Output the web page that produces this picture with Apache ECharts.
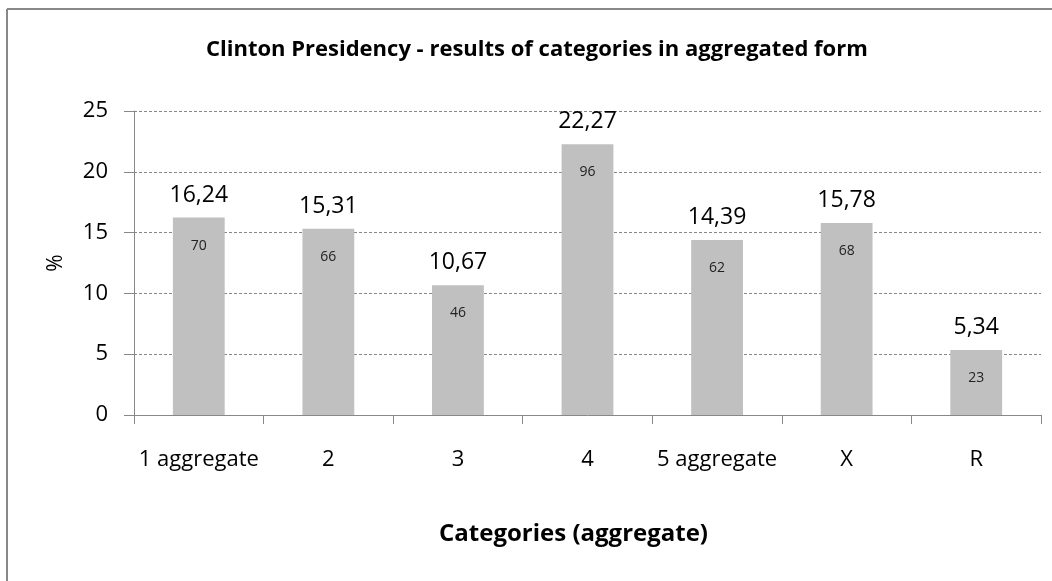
<!DOCTYPE html>
<html>
<head>
<meta charset="utf-8">
<script src="https://cdn.jsdelivr.net/npm/echarts@6/dist/echarts.min.js"></script>
<style>
html,body{margin:0;padding:0;background:#fff;}
#c{width:1052px;height:581px;}
</style>
</head>
<body>
<div id="c"></div>
<script>
const titleText = 'Clinton Presidency - results of categories in aggregated form';
const categories = ['1 aggregate', '2', '3', '4', '5 aggregate', 'X', 'R'];
const percentValues = [16.24, 15.31, 10.67, 22.27, 14.39, 15.78, 5.34];
const countValues = [70, 66, 46, 96, 62, 68, 23];
const yTicks = [0, 5, 10, 15, 20, 25];
const xAxisName = 'Categories (aggregate)';
const yAxisName = '%';

const FONT = 'Open Sans';
const chart = echarts.init(document.getElementById('c'));
chart.setOption({
  animation: false,
  backgroundColor: '#fff',
  textStyle: { fontFamily: FONT },
  title: {
    text: titleText,
    left: 206,
    top: 39,
    padding: 0,
    textStyle: { fontFamily: FONT, fontSize: 22, fontWeight: 'bold', color: '#000' }
  },
  graphic: [
    { type: 'line', shape: { x1: 7, y1: 9, x2: 1052, y2: 9 }, style: { stroke: '#888', lineWidth: 2 } },
    { type: 'line', shape: { x1: 7, y1: 9, x2: 7, y2: 581 }, style: { stroke: '#888', lineWidth: 2 } }
  ],
  grid: { left: 134, right: 11, top: 111, bottom: 166 },
  xAxis: {
    type: 'category',
    data: categories,
    name: xAxisName,
    nameLocation: 'middle',
    nameGap: 107,
    nameTextStyle: { fontFamily: FONT, fontSize: 24, fontWeight: 'bold', color: '#000', padding: [0, 28, 0, 0] },
    axisLine: { lineStyle: { color: '#888', width: 1 } },
    axisTick: { show: true, length: 9, alignWithLabel: false, lineStyle: { color: '#888' } },
    axisLabel: { margin: 34, fontSize: 22, color: '#000', fontFamily: FONT, interval: 0 }
  },
  yAxis: {
    type: 'value',
    min: yTicks[0],
    max: yTicks[yTicks.length - 1],
    interval: yTicks[1] - yTicks[0],
    name: yAxisName,
    nameLocation: 'middle',
    nameGap: 67,
    nameTextStyle: { fontFamily: FONT, fontSize: 21, color: '#000' },
    axisLine: { show: true, lineStyle: { color: '#888', width: 1 } },
    axisTick: { show: true, length: 10, lineStyle: { color: '#888' } },
    axisLabel: { margin: 26, fontSize: 22, color: '#000', fontFamily: FONT },
    splitLine: { show: true, lineStyle: { color: '#888', type: [3, 2], width: 1 } }
  },
  series: [
    {
      type: 'bar',
      data: percentValues,
      barWidth: '40%',
      itemStyle: { color: '#C0C0C0' },
      label: {
        show: true,
        position: 'top',
        distance: 11,
        fontSize: 23,
        color: '#000',
        fontFamily: FONT,
        formatter: p => p.value.toFixed(2).replace('.', ',')
      },
      z: 2
    },
    {
      type: 'bar',
      data: percentValues,
      barWidth: '40%',
      barGap: '-100%',
      itemStyle: { color: 'rgba(0,0,0,0)' },
      label: {
        show: true,
        position: 'insideTop',
        distance: 21,
        fontSize: 14,
        color: '#222',
        fontFamily: FONT,
        formatter: p => String(countValues[p.dataIndex])
      },
      z: 3,
      silent: true
    }
  ]
});
</script>
</body>
</html>
